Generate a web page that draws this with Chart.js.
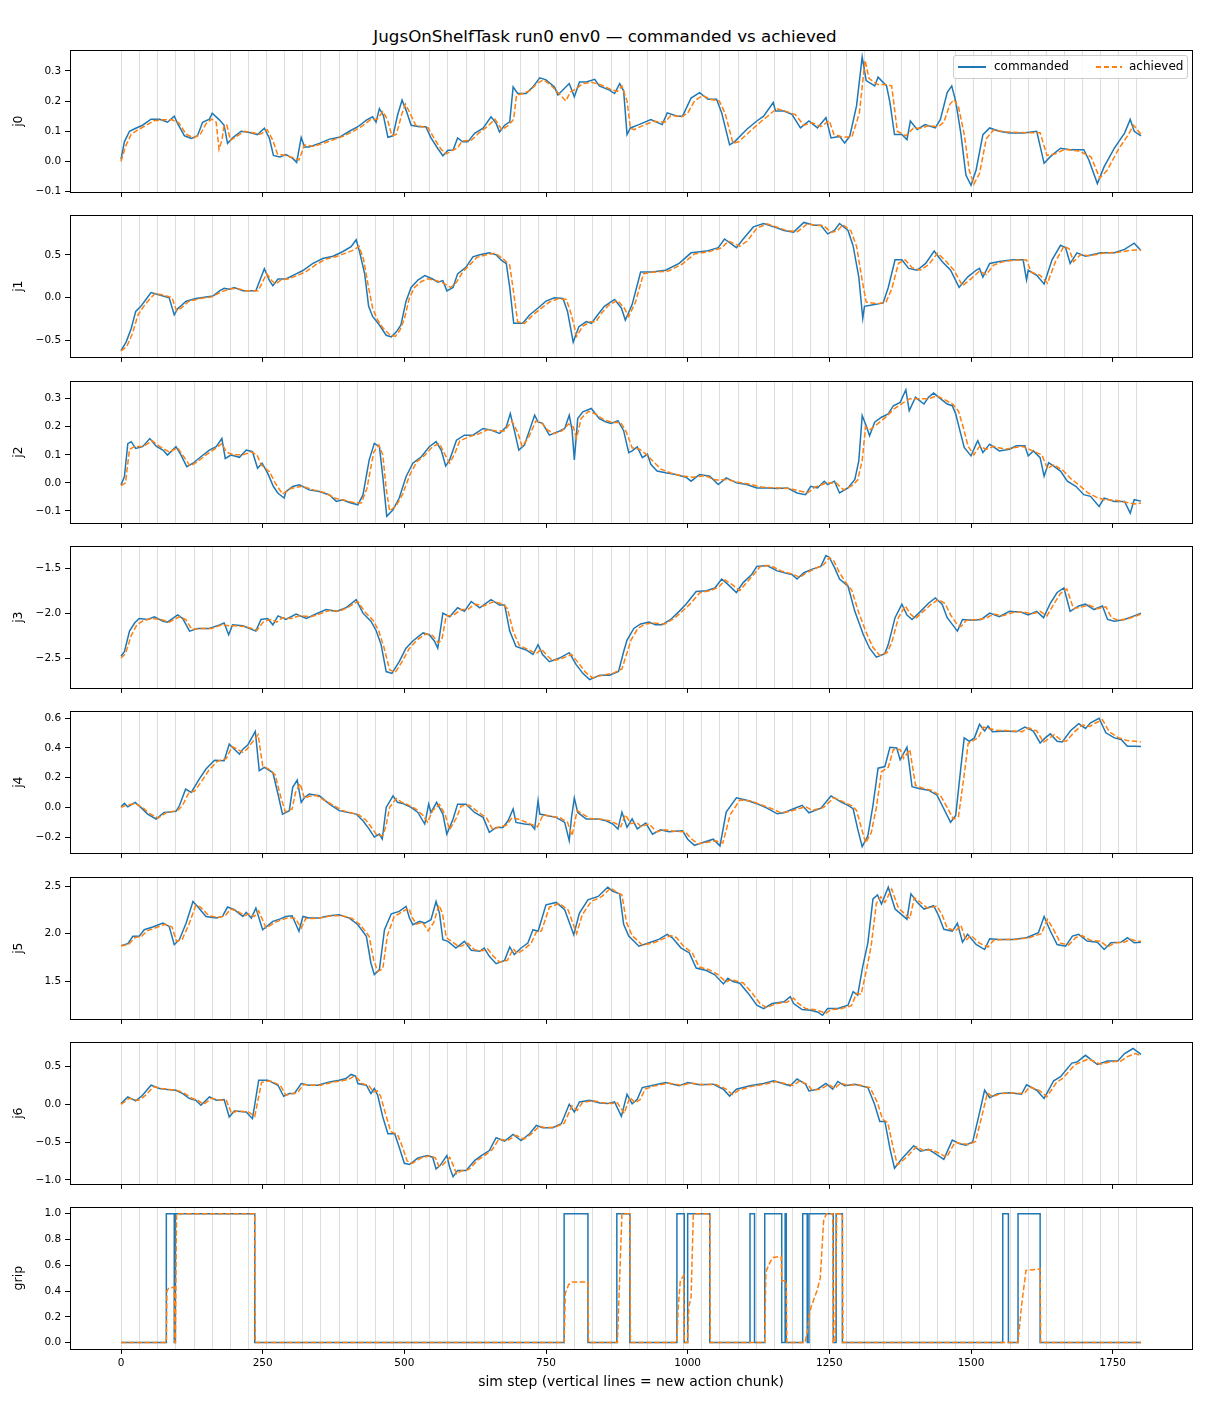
<!DOCTYPE html>
<html>
<head>
<meta charset="utf-8">
<script src="https://cdn.jsdelivr.net/npm/chart.js@4.4.1/dist/chart.umd.min.js"></script>
<style>
  body { margin: 0; background: #fff; width: 1210px; height: 1408px; position: relative; font-family: "DejaVu Sans", sans-serif; overflow: hidden; }
  canvas { position: absolute; left: 0; }
  #title { position: absolute; left: 0; top: 26px; width: 1210px; text-align: center; font-size: 16.7px; line-height: 20px; color: #000; }
  #legend { position: absolute; left: 953px; top: 55px; width: 233px; height: 22px; border: 1px solid #cccccc; border-radius: 3px; background: rgba(255,255,255,0.8); z-index: 5; font-size: 12px; color: #000; }
  #legend .sw { position: absolute; top: 10px; height: 1.5px; }
  #legend .tx { position: absolute; top: 3px; line-height: 15px; }
</style>
</head>
<body>
<div id="title">JugsOnShelfTask run0 env0 — commanded vs achieved</div>
<div id="legend">
  <span class="sw" style="left:4px;width:28px;background:#1f77b4"></span>
  <span class="tx" style="left:40px">commanded</span>
  <span class="sw" style="left:142px;width:26px;background:repeating-linear-gradient(90deg,#ff7f0e 0 5.5px,transparent 5.5px 8px)"></span>
  <span class="tx" style="left:175px">achieved</span>
</div>
<script>
// [sim step, value] pairs
const j0Commanded = [[0,0.007],[6,0.065],[15,0.10],[26,0.11],[38,0.12],[53,0.14],[68,0.14],[82,0.13],[94,0.15],[100,0.125],[112,0.085],[124,0.076],[135,0.085],[144,0.13],[156,0.14],[161,0.16],[174,0.137],[182,0.12],[188,0.06],[197,0.078],[212,0.10],[227,0.096],[241,0.089],[253,0.11],[262,0.076],[269,0.02],[280,0.015],[291,0.023],[303,0.01],[310,-0.003],[318,0.08],[324,0.048],[332,0.048],[350,0.06],[368,0.074],[385,0.08],[403,0.10],[418,0.115],[433,0.137],[444,0.148],[450,0.13],[456,0.175],[463,0.153],[471,0.08],[480,0.085],[488,0.153],[496,0.203],[503,0.17],[512,0.12],[527,0.115],[538,0.115],[547,0.078],[559,0.043],[568,0.019],[577,0.037],[586,0.037],[594,0.078],[603,0.065],[612,0.065],[624,0.093],[639,0.11],[653,0.148],[662,0.126],[668,0.098],[677,0.12],[686,0.131],[692,0.247],[700,0.225],[715,0.225],[727,0.247],[739,0.277],[750,0.27],[765,0.247],[771,0.22],[791,0.258],[800,0.214],[809,0.263],[821,0.263],[836,0.272],[844,0.25],[862,0.236],[871,0.225],[880,0.258],[887,0.234],[893,0.089],[899,0.111],[914,0.122],[935,0.139],[955,0.122],[964,0.161],[982,0.15],[991,0.15],[1006,0.21],[1021,0.228],[1036,0.206],[1051,0.206],[1060,0.161],[1074,0.055],[1083,0.066],[1104,0.106],[1122,0.134],[1134,0.15],[1151,0.195],[1155,0.167],[1170,0.167],[1184,0.156],[1199,0.111],[1214,0.134],[1229,0.111],[1244,0.145],[1253,0.078],[1268,0.083],[1277,0.061],[1286,0.083],[1298,0.184],[1308,0.346],[1315,0.268],[1330,0.25],[1336,0.279],[1351,0.25],[1357,0.195],[1365,0.089],[1378,0.089],[1387,0.072],[1393,0.134],[1405,0.106],[1419,0.122],[1437,0.111],[1446,0.139],[1458,0.228],[1466,0.25],[1473,0.2],[1482,0.094],[1491,-0.045],[1500,-0.079],[1509,-0.028],[1521,0.089],[1533,0.111],[1550,0.1],[1568,0.094],[1592,0.094],[1616,0.1],[1629,-0.006],[1640,0.016],[1658,0.044],[1675,0.039],[1699,0.039],[1708,0.005],[1723,-0.073],[1735,-0.017],[1753,0.044],[1771,0.094],[1781,0.139],[1788,0.1],[1800,0.085]];
const j0Achieved = [[0,0.0],[8,0.05],[18,0.09],[30,0.105],[45,0.12],[58,0.135],[75,0.138],[90,0.138],[102,0.128],[115,0.09],[128,0.078],[140,0.09],[150,0.125],[160,0.14],[168,0.13],[173,0.04],[178,0.07],[182,0.12],[187,0.12],[193,0.07],[203,0.082],[218,0.1],[233,0.095],[246,0.09],[258,0.105],[268,0.07],[276,0.025],[290,0.02],[305,0.012],[314,0.005],[324,0.055],[340,0.05],[360,0.062],[378,0.074],[394,0.085],[410,0.1],[426,0.118],[440,0.138],[452,0.14],[462,0.165],[470,0.14],[478,0.085],[486,0.09],[496,0.16],[502,0.19],[510,0.16],[520,0.12],[542,0.112],[553,0.075],[565,0.04],[574,0.025],[583,0.035],[594,0.045],[602,0.068],[618,0.07],[632,0.095],[646,0.115],[660,0.14],[672,0.105],[684,0.12],[693,0.14],[698,0.22],[710,0.225],[722,0.235],[735,0.26],[746,0.27],[760,0.25],[775,0.22],[785,0.2],[793,0.23],[803,0.24],[815,0.258],[830,0.262],[845,0.255],[865,0.238],[876,0.232],[884,0.25],[893,0.2],[899,0.11],[905,0.105],[920,0.118],[940,0.133],[960,0.13],[970,0.152],[990,0.148],[1000,0.16],[1012,0.2],[1026,0.218],[1042,0.205],[1056,0.2],[1066,0.16],[1080,0.06],[1090,0.065],[1110,0.1],[1128,0.13],[1140,0.148],[1157,0.175],[1175,0.165],[1190,0.155],[1205,0.12],[1220,0.128],[1235,0.115],[1250,0.135],[1258,0.09],[1274,0.08],[1290,0.082],[1303,0.16],[1313,0.335],[1320,0.275],[1335,0.255],[1350,0.255],[1360,0.25],[1370,0.1],[1385,0.085],[1398,0.11],[1410,0.11],[1425,0.118],[1442,0.115],[1452,0.13],[1463,0.19],[1470,0.205],[1478,0.18],[1488,0.09],[1497,-0.03],[1505,-0.075],[1515,-0.04],[1527,0.075],[1540,0.105],[1560,0.098],[1600,0.095],[1622,0.095],[1634,0.02],[1648,0.025],[1665,0.04],[1690,0.035],[1712,0.015],[1727,-0.055],[1740,-0.03],[1760,0.04],[1778,0.09],[1787,0.12],[1800,0.09]];

const j1Commanded = [[0,-0.615],[9,-0.516],[18,-0.357],[26,-0.159],[35,-0.1],[44,-0.02],[53,0.06],[68,0.032],[85,0.0],[94,-0.2],[100,-0.127],[115,-0.04],[132,-0.008],[150,0.008],[162,0.02],[174,0.08],[182,0.11],[191,0.1],[200,0.12],[215,0.08],[238,0.08],[253,0.337],[262,0.2],[268,0.14],[277,0.218],[291,0.218],[309,0.278],[321,0.317],[338,0.397],[356,0.456],[374,0.484],[391,0.536],[406,0.595],[415,0.675],[421,0.536],[430,0.278],[437,-0.1],[444,-0.218],[456,-0.317],[468,-0.437],[477,-0.456],[486,-0.397],[494,-0.317],[503,-0.04],[512,0.12],[524,0.206],[536,0.258],[550,0.218],[559,0.18],[568,0.2],[575,0.08],[586,0.12],[594,0.278],[609,0.357],[621,0.476],[633,0.5],[650,0.524],[662,0.5],[671,0.437],[680,0.397],[686,0.12],[693,-0.298],[709,-0.298],[721,-0.2],[736,-0.12],[750,-0.04],[765,0.0],[780,-0.008],[788,-0.159],[798,-0.516],[808,-0.337],[821,-0.278],[830,-0.298],[839,-0.218],[853,-0.1],[871,-0.02],[883,-0.119],[890,-0.26],[902,-0.08],[917,0.3],[937,0.3],[961,0.32],[985,0.4],[1006,0.523],[1033,0.543],[1054,0.583],[1065,0.684],[1086,0.583],[1098,0.684],[1116,0.825],[1134,0.865],[1152,0.825],[1170,0.784],[1187,0.764],[1205,0.877],[1223,0.845],[1235,0.845],[1247,0.744],[1259,0.784],[1268,0.865],[1283,0.784],[1292,0.603],[1302,0.241],[1309,-0.241],[1312,-0.1],[1330,-0.08],[1345,-0.06],[1354,0.12],[1366,0.442],[1378,0.442],[1390,0.342],[1405,0.32],[1420,0.4],[1435,0.543],[1449,0.422],[1464,0.32],[1479,0.12],[1494,0.241],[1509,0.32],[1515,0.342],[1521,0.241],[1533,0.4],[1550,0.422],[1574,0.442],[1592,0.442],[1598,0.209],[1601,0.32],[1616,0.261],[1629,0.161],[1643,0.442],[1658,0.611],[1667,0.583],[1675,0.4],[1687,0.523],[1702,0.483],[1729,0.523],[1753,0.523],[1771,0.563],[1788,0.636],[1800,0.55]];
const j1Achieved = [[0,-0.62],[10,-0.57],[20,-0.42],[30,-0.2],[40,-0.1],[50,-0.02],[60,0.05],[75,0.03],[90,0.0],[98,-0.15],[106,-0.12],[120,-0.04],[140,-0.01],[160,0.01],[178,0.07],[190,0.1],[205,0.11],[220,0.08],[242,0.08],[257,0.28],[266,0.2],[273,0.16],[283,0.21],[296,0.22],[315,0.27],[328,0.31],[345,0.39],[362,0.45],[380,0.48],[397,0.52],[412,0.56],[420,0.6],[428,0.45],[436,0.15],[444,-0.12],[452,-0.25],[462,-0.35],[474,-0.43],[484,-0.45],[492,-0.38],[500,-0.25],[509,0.0],[518,0.12],[530,0.19],[542,0.22],[556,0.2],[566,0.18],[574,0.15],[582,0.12],[592,0.18],[603,0.3],[615,0.38],[628,0.47],[645,0.5],[660,0.52],[675,0.45],[686,0.38],[692,0.1],[700,-0.28],[712,-0.3],[727,-0.2],[742,-0.12],[756,-0.05],[772,-0.01],[786,-0.02],[795,-0.2],[804,-0.45],[815,-0.33],[828,-0.28],[838,-0.28],[848,-0.18],[860,-0.09],[876,-0.03],[888,-0.12],[896,-0.22],[908,-0.05],[922,0.28],[942,0.3],[966,0.31],[990,0.39],[1012,0.51],[1040,0.54],[1060,0.58],[1072,0.66],[1092,0.6],[1105,0.66],[1122,0.81],[1140,0.86],[1158,0.82],[1176,0.78],[1194,0.77],[1211,0.86],[1230,0.84],[1240,0.84],[1253,0.76],[1264,0.78],[1274,0.85],[1288,0.78],[1298,0.6],[1308,0.2],[1315,-0.05],[1335,-0.07],[1350,-0.05],[1360,0.1],[1372,0.4],[1384,0.44],[1396,0.35],[1410,0.32],[1426,0.39],[1441,0.52],[1455,0.43],[1470,0.32],[1485,0.14],[1500,0.22],[1515,0.31],[1527,0.27],[1540,0.38],[1556,0.42],[1580,0.44],[1598,0.44],[1606,0.3],[1622,0.26],[1635,0.17],[1649,0.42],[1664,0.6],[1673,0.57],[1681,0.42],[1693,0.5],[1710,0.49],[1735,0.52],[1760,0.53],[1780,0.55],[1800,0.56]];

const j2Commanded = [[0,-0.007],[6,0.022],[12,0.14],[18,0.147],[26,0.123],[38,0.129],[51,0.158],[62,0.131],[74,0.117],[82,0.099],[97,0.129],[106,0.099],[116,0.058],[127,0.07],[141,0.093],[156,0.117],[168,0.129],[178,0.158],[184,0.087],[194,0.099],[209,0.091],[221,0.117],[232,0.111],[241,0.052],[249,0.07],[259,0.034],[269,-0.013],[277,-0.037],[288,-0.054],[291,-0.031],[303,-0.013],[315,-0.007],[332,-0.025],[350,-0.031],[368,-0.043],[380,-0.066],[391,-0.06],[403,-0.07],[418,-0.078],[427,-0.043],[438,0.082],[447,0.141],[456,0.129],[462,0.022],[469,-0.119],[480,-0.096],[491,-0.054],[503,0.022],[515,0.07],[530,0.093],[544,0.129],[556,0.147],[565,0.117],[573,0.06],[580,0.082],[592,0.152],[606,0.17],[621,0.17],[639,0.194],[653,0.188],[668,0.176],[680,0.2],[687,0.247],[694,0.188],[702,0.117],[712,0.135],[721,0.188],[730,0.241],[736,0.217],[744,0.212],[756,0.17],[771,0.182],[783,0.194],[791,0.241],[796,0.188],[800,0.082],[806,0.229],[815,0.253],[830,0.265],[844,0.229],[856,0.217],[865,0.212],[877,0.222],[887,0.186],[896,0.108],[902,0.114],[911,0.128],[920,0.09],[929,0.102],[935,0.066],[946,0.042],[961,0.036],[979,0.03],[997,0.02],[1006,0.006],[1021,0.03],[1039,0.024],[1054,-0.006],[1068,0.018],[1086,0.0],[1104,-0.006],[1122,-0.018],[1140,-0.018],[1158,-0.02],[1176,-0.018],[1193,-0.036],[1208,-0.042],[1217,-0.012],[1229,-0.018],[1241,0.006],[1247,-0.006],[1259,0.006],[1268,-0.036],[1283,-0.018],[1295,0.012],[1302,0.078],[1308,0.24],[1315,0.204],[1321,0.168],[1330,0.216],[1342,0.234],[1354,0.246],[1363,0.275],[1375,0.287],[1385,0.332],[1391,0.257],[1402,0.305],[1417,0.281],[1425,0.305],[1434,0.32],[1446,0.3],[1458,0.281],[1467,0.275],[1473,0.246],[1479,0.198],[1488,0.126],[1500,0.096],[1509,0.138],[1512,0.15],[1521,0.108],[1533,0.138],[1550,0.114],[1568,0.12],[1580,0.132],[1595,0.132],[1601,0.096],[1610,0.114],[1622,0.09],[1629,0.024],[1637,0.072],[1646,0.06],[1658,0.042],[1670,0.006],[1685,-0.012],[1699,-0.042],[1711,-0.048],[1726,-0.084],[1735,-0.054],[1753,-0.066],[1771,-0.066],[1781,-0.108],[1788,-0.06],[1800,-0.065]];
const j2Achieved = [[0,-0.01],[8,0.0],[15,0.12],[25,0.13],[40,0.13],[55,0.15],[68,0.13],[85,0.11],[100,0.125],[112,0.09],[122,0.06],[135,0.075],[150,0.1],[165,0.12],[178,0.14],[186,0.11],[198,0.1],[215,0.1],[230,0.11],[240,0.1],[247,0.065],[262,0.04],[272,0.0],[285,-0.04],[300,-0.02],[320,-0.012],[340,-0.025],[360,-0.035],[378,-0.055],[395,-0.062],[410,-0.07],[424,-0.072],[434,-0.02],[446,0.11],[455,0.135],[462,0.1],[468,-0.02],[474,-0.1],[486,-0.08],[497,-0.04],[510,0.03],[522,0.075],[537,0.1],[550,0.13],[562,0.14],[572,0.1],[580,0.07],[588,0.1],[598,0.15],[615,0.165],[632,0.175],[648,0.19],[662,0.185],[676,0.185],[690,0.22],[700,0.18],[708,0.13],[720,0.165],[732,0.22],[742,0.215],[752,0.19],[764,0.175],[778,0.185],[790,0.21],[798,0.2],[804,0.16],[812,0.23],[825,0.255],[838,0.245],[852,0.225],[868,0.215],[882,0.215],[892,0.18],[902,0.125],[915,0.12],[925,0.105],[940,0.075],[952,0.05],[970,0.035],[990,0.025],[1010,0.02],[1030,0.026],[1050,0.01],[1070,0.012],[1090,0.002],[1110,-0.005],[1130,-0.015],[1160,-0.018],[1180,-0.02],[1200,-0.03],[1212,-0.035],[1225,-0.015],[1245,0.0],[1262,0.0],[1275,-0.025],[1290,-0.01],[1300,0.01],[1308,0.08],[1314,0.2],[1322,0.19],[1335,0.21],[1350,0.235],[1365,0.265],[1380,0.285],[1392,0.3],[1408,0.3],[1425,0.3],[1440,0.31],[1455,0.295],[1468,0.28],[1478,0.255],[1486,0.2],[1495,0.13],[1505,0.1],[1515,0.13],[1527,0.12],[1540,0.13],[1560,0.12],[1590,0.13],[1608,0.115],[1625,0.1],[1635,0.05],[1645,0.065],[1662,0.045],[1676,0.015],[1692,-0.01],[1706,-0.035],[1720,-0.05],[1735,-0.06],[1755,-0.062],[1775,-0.07],[1790,-0.075],[1800,-0.072]];

const j3Commanded = [[0,-2.48],[6,-2.43],[15,-2.2],[24,-2.11],[32,-2.06],[47,-2.07],[59,-2.04],[74,-2.09],[82,-2.1],[100,-2.02],[109,-2.06],[121,-2.2],[135,-2.17],[156,-2.17],[174,-2.13],[182,-2.11],[190,-2.24],[197,-2.13],[215,-2.14],[238,-2.2],[247,-2.07],[259,-2.06],[268,-2.13],[277,-2.03],[291,-2.07],[309,-2.01],[327,-2.06],[344,-2.01],[362,-1.96],[380,-1.98],[397,-1.94],[415,-1.85],[427,-2.0],[441,-2.09],[450,-2.19],[459,-2.35],[468,-2.65],[478,-2.67],[491,-2.54],[503,-2.39],[515,-2.31],[533,-2.22],[544,-2.24],[553,-2.31],[559,-2.39],[568,-2.0],[580,-2.04],[594,-1.94],[606,-1.98],[618,-1.87],[633,-1.94],[653,-1.85],[668,-1.91],[677,-1.91],[686,-2.2],[697,-2.37],[715,-2.41],[727,-2.46],[736,-2.35],[744,-2.46],[756,-2.54],[774,-2.5],[791,-2.44],[803,-2.57],[815,-2.67],[827,-2.74],[845,-2.69],[862,-2.69],[878,-2.65],[887,-2.43],[893,-2.3],[905,-2.17],[917,-2.12],[932,-2.1],[943,-2.13],[955,-2.13],[970,-2.07],[985,-1.98],[997,-1.9],[1015,-1.76],[1033,-1.75],[1048,-1.72],[1060,-1.62],[1071,-1.68],[1086,-1.77],[1098,-1.66],[1113,-1.57],[1122,-1.48],[1140,-1.47],[1158,-1.53],[1176,-1.56],[1184,-1.57],[1193,-1.62],[1205,-1.55],[1220,-1.51],[1235,-1.48],[1244,-1.36],[1250,-1.38],[1259,-1.49],[1268,-1.62],[1283,-1.70],[1295,-1.98],[1310,-2.24],[1321,-2.39],[1333,-2.49],[1348,-2.45],[1354,-2.35],[1366,-2.05],[1378,-1.9],[1387,-2.02],[1396,-2.07],[1411,-1.98],[1425,-1.89],[1437,-1.83],[1449,-1.9],[1458,-2.05],[1470,-2.15],[1476,-2.2],[1485,-2.07],[1503,-2.08],[1518,-2.07],[1533,-2.0],[1550,-2.04],[1568,-1.98],[1589,-1.99],[1601,-2.02],[1616,-1.98],[1628,-2.05],[1640,-1.89],[1652,-1.77],[1664,-1.72],[1675,-1.98],[1690,-1.92],[1702,-1.9],[1717,-1.96],[1732,-1.92],[1741,-2.07],[1753,-2.09],[1771,-2.07],[1788,-2.03],[1800,-2.0]];
const j3Achieved = [[0,-2.5],[8,-2.45],[18,-2.25],[28,-2.13],[40,-2.08],[55,-2.06],[70,-2.07],[85,-2.1],[103,-2.04],[114,-2.07],[125,-2.18],[140,-2.17],[160,-2.17],[178,-2.13],[190,-2.14],[200,-2.14],[220,-2.15],[240,-2.19],[252,-2.09],[265,-2.07],[275,-2.1],[285,-2.05],[300,-2.06],[315,-2.03],[335,-2.04],[350,-2.01],[368,-1.97],[385,-1.98],[402,-1.93],[418,-1.87],[431,-1.99],[445,-2.08],[455,-2.2],[464,-2.38],[474,-2.63],[484,-2.66],[496,-2.54],[508,-2.4],[522,-2.3],[538,-2.23],[550,-2.25],[560,-2.33],[566,-2.3],[574,-2.03],[585,-2.03],[600,-1.96],[612,-1.96],[624,-1.9],[640,-1.92],[658,-1.87],[674,-1.9],[682,-1.95],[692,-2.2],[703,-2.36],[720,-2.41],[733,-2.45],[742,-2.4],[750,-2.46],[762,-2.53],[780,-2.5],[795,-2.46],[808,-2.56],[820,-2.66],[832,-2.72],[850,-2.69],[868,-2.67],[884,-2.62],[893,-2.44],[900,-2.3],[912,-2.17],[925,-2.12],[940,-2.11],[960,-2.12],[978,-2.05],[992,-1.97],[1004,-1.9],[1022,-1.77],[1040,-1.75],[1055,-1.71],[1066,-1.63],[1078,-1.68],[1092,-1.75],[1104,-1.66],[1118,-1.56],[1128,-1.48],[1146,-1.47],[1165,-1.53],[1182,-1.56],[1198,-1.6],[1210,-1.55],[1226,-1.5],[1240,-1.46],[1250,-1.38],[1258,-1.42],[1268,-1.55],[1278,-1.65],[1290,-1.75],[1301,-1.98],[1316,-2.23],[1327,-2.38],[1339,-2.47],[1352,-2.44],[1360,-2.33],[1372,-2.05],[1384,-1.92],[1393,-2.01],[1402,-2.06],[1416,-1.98],[1430,-1.9],[1442,-1.85],[1454,-1.89],[1464,-2.02],[1476,-2.13],[1482,-2.15],[1492,-2.08],[1510,-2.07],[1525,-2.06],[1540,-2.01],[1556,-2.03],[1575,-1.99],[1595,-1.99],[1607,-2.01],[1622,-1.98],[1634,-2.03],[1646,-1.9],[1658,-1.78],[1669,-1.73],[1681,-1.95],[1696,-1.93],[1708,-1.91],[1723,-1.95],[1738,-1.93],[1748,-2.05],[1760,-2.08],[1778,-2.06],[1792,-2.03],[1800,-2.01]];

const j4Commanded = [[0,0.004],[6,0.027],[12,0.004],[25,0.034],[35,0.0],[47,-0.045],[62,-0.078],[76,-0.034],[97,-0.027],[103,0.011],[114,0.123],[124,0.101],[138,0.19],[150,0.258],[165,0.318],[182,0.314],[191,0.426],[200,0.392],[209,0.359],[215,0.392],[224,0.422],[237,0.511],[244,0.247],[253,0.269],[268,0.235],[277,0.09],[285,-0.045],[297,-0.022],[303,0.135],[311,0.184],[318,0.034],[324,0.067],[332,0.09],[350,0.078],[368,0.022],[385,-0.022],[415,-0.045],[427,-0.09],[438,-0.146],[447,-0.2],[456,-0.18],[461,-0.213],[468,0.0],[480,0.078],[488,0.034],[497,0.027],[512,0.0],[524,-0.034],[536,-0.112],[543,0.022],[547,-0.034],[557,0.034],[568,-0.045],[575,-0.18],[586,-0.078],[594,0.022],[609,0.022],[624,-0.034],[639,-0.067],[650,-0.168],[662,-0.135],[674,-0.135],[683,-0.09],[692,-0.011],[697,-0.101],[712,-0.112],[724,-0.117],[730,-0.146],[736,0.045],[739,-0.045],[753,-0.056],[768,-0.067],[783,-0.101],[791,-0.224],[795,-0.067],[800,0.063],[806,-0.034],[821,-0.078],[842,-0.078],[856,-0.09],[868,-0.112],[877,-0.146],[884,-0.032],[893,-0.134],[902,-0.077],[911,-0.145],[926,-0.105],[938,-0.18],[952,-0.15],[967,-0.164],[991,-0.157],[1000,-0.214],[1012,-0.255],[1027,-0.236],[1045,-0.214],[1057,-0.259],[1068,-0.032],[1086,0.064],[1104,0.048],[1122,0.025],[1140,-0.005],[1158,-0.043],[1170,-0.036],[1187,-0.009],[1202,0.014],[1214,-0.036],[1235,-0.005],[1253,0.077],[1271,0.036],[1283,0.014],[1292,-0.009],[1300,-0.145],[1308,-0.264],[1318,-0.191],[1327,0.014],[1336,0.264],[1348,0.275],[1357,0.405],[1369,0.4],[1375,0.32],[1387,0.405],[1396,0.139],[1408,0.127],[1425,0.116],[1440,0.082],[1452,-0.009],[1464,-0.1],[1473,-0.055],[1482,0.264],[1488,0.468],[1497,0.445],[1506,0.468],[1515,0.559],[1524,0.514],[1530,0.548],[1538,0.509],[1562,0.514],[1580,0.509],[1595,0.541],[1610,0.514],[1622,0.434],[1631,0.468],[1640,0.495],[1652,0.445],[1661,0.441],[1676,0.518],[1690,0.564],[1702,0.532],[1711,0.57],[1726,0.6],[1738,0.502],[1753,0.468],[1765,0.457],[1776,0.411],[1788,0.411],[1800,0.41]];
const j4Achieved = [[0,0.0],[10,0.015],[25,0.025],[38,0.0],[50,-0.04],[65,-0.072],[80,-0.035],[100,-0.02],[108,0.01],[120,0.1],[130,0.11],[143,0.18],[155,0.25],[170,0.31],[186,0.33],[196,0.41],[206,0.39],[215,0.37],[222,0.39],[232,0.44],[242,0.49],[250,0.28],[260,0.26],[272,0.22],[282,0.07],[290,-0.03],[302,-0.01],[308,0.1],[316,0.16],[324,0.06],[332,0.075],[345,0.08],[365,0.035],[390,-0.02],[420,-0.05],[432,-0.085],[443,-0.14],[452,-0.19],[462,-0.19],[468,-0.12],[474,0.0],[486,0.06],[495,0.035],[505,0.02],[520,-0.01],[532,-0.05],[541,-0.1],[550,-0.02],[562,0.02],[572,-0.05],[580,-0.15],[592,-0.07],[600,0.01],[615,0.015],[630,-0.03],[645,-0.07],[656,-0.15],[668,-0.13],[680,-0.12],[690,-0.07],[702,-0.08],[718,-0.105],[735,-0.13],[745,-0.05],[760,-0.06],[775,-0.07],[788,-0.1],[796,-0.19],[805,-0.02],[812,-0.04],[828,-0.075],[848,-0.08],[862,-0.09],[874,-0.11],[882,-0.13],[890,-0.05],[900,-0.11],[910,-0.1],[918,-0.13],[932,-0.11],[945,-0.165],[960,-0.15],[975,-0.16],[996,-0.165],[1006,-0.21],[1018,-0.245],[1035,-0.235],[1050,-0.225],[1062,-0.24],[1075,-0.05],[1092,0.05],[1110,0.045],[1128,0.02],[1146,-0.005],[1164,-0.035],[1178,-0.03],[1195,-0.01],[1208,0.005],[1220,-0.02],[1240,0.0],[1258,0.065],[1276,0.035],[1290,0.01],[1298,-0.02],[1306,-0.13],[1314,-0.24],[1324,-0.17],[1333,0.0],[1342,0.24],[1354,0.27],[1363,0.39],[1375,0.39],[1381,0.33],[1392,0.39],[1402,0.15],[1414,0.13],[1430,0.115],[1446,0.08],[1458,0.0],[1469,-0.08],[1478,-0.06],[1488,0.22],[1495,0.43],[1504,0.45],[1513,0.47],[1522,0.54],[1532,0.53],[1545,0.52],[1570,0.515],[1590,0.51],[1602,0.535],[1616,0.515],[1628,0.44],[1638,0.465],[1647,0.49],[1660,0.45],[1668,0.445],[1683,0.51],[1697,0.555],[1710,0.545],[1718,0.565],[1732,0.59],[1744,0.51],[1760,0.47],[1775,0.45],[1790,0.445],[1800,0.44]];

const j5Commanded = [[0,1.874],[12,1.895],[21,1.972],[32,1.972],[41,2.042],[56,2.07],[74,2.112],[85,2.077],[94,1.884],[103,1.937],[115,2.112],[127,2.34],[135,2.288],[150,2.182],[168,2.165],[179,2.182],[188,2.281],[200,2.253],[215,2.182],[221,2.225],[230,2.165],[238,2.27],[250,2.042],[268,2.13],[280,2.154],[291,2.182],[302,2.189],[314,2.025],[321,2.182],[332,2.165],[350,2.165],[368,2.189],[385,2.2],[403,2.165],[418,2.095],[433,1.972],[441,1.691],[447,1.568],[456,1.621],[465,2.042],[477,2.21],[491,2.235],[503,2.288],[509,2.165],[515,2.095],[527,2.13],[536,2.112],[547,2.147],[556,2.34],[562,2.218],[568,1.937],[577,1.919],[591,1.849],[606,1.919],[618,1.825],[633,1.814],[641,1.849],[650,1.761],[662,1.684],[677,1.719],[686,1.86],[694,1.779],[706,1.849],[718,1.902],[727,2.042],[736,2.025],[750,2.305],[768,2.33],[783,2.253],[799,1.989],[809,2.218],[824,2.358],[842,2.393],[859,2.491],[868,2.446],[880,2.42],[887,2.1],[896,1.975],[914,1.868],[932,1.904],[949,1.94],[964,1.993],[973,1.957],[988,1.851],[1003,1.797],[1015,1.637],[1033,1.612],[1048,1.566],[1063,1.47],[1071,1.53],[1080,1.495],[1092,1.477],[1107,1.37],[1122,1.246],[1134,1.21],[1149,1.263],[1170,1.281],[1181,1.335],[1187,1.263],[1202,1.199],[1217,1.192],[1229,1.174],[1238,1.139],[1247,1.21],[1265,1.21],[1283,1.246],[1292,1.388],[1300,1.352],[1309,1.655],[1318,1.904],[1327,2.367],[1335,2.409],[1342,2.313],[1354,2.491],[1366,2.26],[1387,2.153],[1394,2.42],[1405,2.331],[1417,2.26],[1434,2.295],[1443,2.189],[1452,2.046],[1467,2.028],[1476,2.11],[1485,1.911],[1494,1.993],[1509,1.886],[1524,1.833],[1533,1.947],[1550,1.94],[1574,1.94],[1598,1.957],[1619,2.011],[1629,2.181],[1640,2.028],[1652,1.886],[1667,1.868],[1679,1.975],[1690,1.993],[1705,1.922],[1723,1.911],[1735,1.833],[1747,1.904],[1765,1.911],[1776,1.957],[1788,1.904],[1800,1.91]];
const j5Achieved = [[0,1.87],[14,1.89],[25,1.96],[36,1.97],[46,2.03],[60,2.06],[78,2.1],[90,2.07],[98,1.92],[108,1.94],[120,2.1],[132,2.3],[140,2.28],[155,2.19],[172,2.17],[184,2.19],[193,2.26],[205,2.24],[218,2.19],[226,2.21],[235,2.18],[243,2.24],[256,2.06],[272,2.12],[285,2.15],[296,2.17],[308,2.16],[318,2.06],[326,2.16],[338,2.16],[355,2.17],[372,2.19],[390,2.19],[408,2.16],[423,2.09],[438,1.97],[446,1.72],[453,1.6],[462,1.63],[470,1.98],[482,2.18],[496,2.23],[508,2.27],[514,2.17],[521,2.1],[532,2.12],[542,2.03],[552,2.12],[561,2.3],[567,2.22],[574,1.96],[583,1.92],[597,1.86],[612,1.9],[624,1.83],[638,1.82],[647,1.84],[656,1.77],[668,1.7],[682,1.72],[692,1.84],[700,1.79],[712,1.84],[724,1.9],[733,2.02],[742,2.03],[756,2.28],[774,2.32],[789,2.25],[804,2.0],[814,2.2],[830,2.34],[848,2.39],[864,2.48],[874,2.44],[884,2.41],[892,2.12],[902,1.98],[920,1.88],[938,1.9],[955,1.94],[970,1.98],[980,1.96],[994,1.86],[1008,1.8],[1020,1.65],[1038,1.62],[1053,1.57],[1068,1.49],[1077,1.52],[1086,1.5],[1098,1.48],[1113,1.38],[1128,1.26],[1140,1.22],[1155,1.26],[1176,1.28],[1187,1.32],[1194,1.27],[1208,1.21],[1223,1.2],[1235,1.18],[1244,1.16],[1253,1.2],[1271,1.21],[1289,1.24],[1298,1.37],[1306,1.36],[1315,1.6],[1324,1.88],[1333,2.32],[1341,2.39],[1348,2.33],[1360,2.47],[1372,2.27],[1392,2.16],[1400,2.38],[1411,2.33],[1423,2.27],[1440,2.29],[1449,2.2],[1458,2.06],[1473,2.03],[1482,2.09],[1491,1.93],[1500,1.98],[1515,1.9],[1530,1.86],[1540,1.93],[1556,1.94],[1580,1.94],[1604,1.96],[1624,2.0],[1635,2.15],[1646,2.04],[1658,1.9],[1672,1.88],[1685,1.96],[1696,1.98],[1711,1.93],[1729,1.92],[1741,1.86],[1753,1.9],[1770,1.91],[1782,1.94],[1794,1.92],[1800,1.92]];

const j6Commanded = [[0,0.009],[12,0.097],[26,0.044],[38,0.12],[53,0.252],[68,0.208],[82,0.195],[97,0.186],[109,0.142],[121,0.075],[132,0.053],[141,-0.013],[156,0.097],[168,0.053],[182,0.062],[191,-0.168],[200,-0.088],[221,-0.102],[232,-0.19],[243,0.319],[259,0.319],[277,0.252],[287,0.106],[297,0.142],[306,0.142],[318,0.274],[332,0.252],[347,0.252],[368,0.296],[385,0.319],[397,0.341],[406,0.394],[414,0.372],[418,0.274],[433,0.252],[441,0.142],[447,0.208],[453,0.119],[462,-0.168],[471,-0.389],[483,-0.389],[491,-0.566],[500,-0.779],[509,-0.796],[524,-0.708],[541,-0.677],[550,-0.699],[556,-0.854],[563,-0.81],[575,-0.677],[580,-0.832],[586,-0.956],[594,-0.876],[609,-0.876],[624,-0.743],[636,-0.677],[650,-0.611],[662,-0.442],[677,-0.487],[692,-0.398],[706,-0.478],[721,-0.389],[733,-0.279],[744,-0.31],[762,-0.31],[777,-0.257],[791,0.0],[800,-0.102],[809,0.031],[827,0.053],[845,0.018],[859,0.009],[871,0.031],[883,-0.16],[893,0.132],[902,0.006],[911,0.065],[920,0.221],[935,0.244],[961,0.289],[985,0.244],[1000,0.289],[1021,0.257],[1045,0.266],[1063,0.199],[1074,0.109],[1086,0.199],[1110,0.244],[1134,0.275],[1152,0.311],[1181,0.244],[1193,0.334],[1208,0.266],[1214,0.177],[1229,0.199],[1244,0.275],[1256,0.199],[1265,0.302],[1277,0.244],[1295,0.266],[1318,0.221],[1330,-0.003],[1339,-0.227],[1348,-0.227],[1357,-0.585],[1365,-0.845],[1378,-0.72],[1399,-0.549],[1411,-0.621],[1425,-0.594],[1437,-0.652],[1452,-0.728],[1467,-0.473],[1479,-0.518],[1491,-0.54],[1503,-0.496],[1515,-0.114],[1524,0.186],[1533,0.087],[1547,0.141],[1568,0.154],[1589,0.132],[1598,0.257],[1616,0.186],[1629,0.078],[1646,0.311],[1658,0.365],[1678,0.544],[1687,0.558],[1702,0.647],[1723,0.526],[1741,0.571],[1759,0.571],[1771,0.67],[1786,0.737],[1800,0.66]];
const j6Achieved = [[0,0.0],[15,0.08],[30,0.05],[42,0.11],[57,0.23],[72,0.21],[86,0.195],[101,0.18],[113,0.14],[125,0.08],[136,0.05],[146,0.0],[160,0.08],[172,0.06],[186,0.05],[195,-0.12],[205,-0.09],[225,-0.1],[236,-0.16],[248,0.29],[263,0.31],[281,0.25],[291,0.12],[301,0.14],[311,0.15],[322,0.26],[336,0.25],[352,0.25],[372,0.29],[390,0.31],[402,0.33],[411,0.37],[418,0.34],[424,0.28],[438,0.24],[446,0.16],[452,0.18],[458,0.11],[467,-0.13],[476,-0.36],[488,-0.4],[496,-0.55],[505,-0.75],[514,-0.78],[529,-0.71],[546,-0.68],[555,-0.71],[561,-0.82],[568,-0.8],[580,-0.7],[586,-0.8],[592,-0.92],[600,-0.88],[614,-0.86],[629,-0.74],[641,-0.68],[655,-0.6],[667,-0.46],[682,-0.48],[697,-0.41],[711,-0.46],[726,-0.38],[738,-0.29],[750,-0.31],[767,-0.3],[782,-0.25],[796,-0.02],[805,-0.08],[814,0.02],[832,0.05],[850,0.02],[864,0.01],[876,0.02],[888,-0.12],[898,0.09],[907,0.02],[916,0.06],[925,0.2],[940,0.24],[966,0.28],[990,0.25],[1005,0.28],[1026,0.26],[1050,0.26],[1068,0.2],[1079,0.13],[1091,0.19],[1115,0.24],[1139,0.27],[1157,0.3],[1186,0.25],[1198,0.31],[1212,0.26],[1219,0.19],[1234,0.2],[1249,0.26],[1260,0.21],[1270,0.28],[1282,0.25],[1300,0.26],[1322,0.22],[1335,0.02],[1344,-0.2],[1353,-0.24],[1362,-0.55],[1370,-0.8],[1383,-0.72],[1404,-0.56],[1416,-0.61],[1430,-0.6],[1442,-0.64],[1457,-0.7],[1472,-0.5],[1484,-0.52],[1496,-0.53],[1508,-0.49],[1520,-0.13],[1529,0.15],[1538,0.1],[1552,0.14],[1573,0.15],[1594,0.14],[1603,0.23],[1621,0.18],[1634,0.1],[1651,0.29],[1663,0.35],[1683,0.52],[1692,0.55],[1707,0.6],[1728,0.53],[1746,0.56],[1764,0.57],[1776,0.63],[1790,0.67],[1800,0.64]];

// grip: commanded is a step signal (value holds until the next change)
const gripCommanded = [[0,0],[80,1],[94,0],[96,1],[236,0],[782,1],[824,0],[875,1],[898,0],[981,1],[994,0],[1000,1],[1039,0],[1110,1],[1118,0],[1136,1],[1166,0],[1172,1],[1174,0],[1203,1],[1211,0],[1214,1],[1257,0],[1262,1],[1273,0],[1556,1],[1566,0],[1583,1],[1622,0],[1800,0]];
const gripAchieved = [[0,0],[80,0],[81,0.40],[84,0.42],[94,0.43],[95,0],[96,0],[98,1],[236,1],[237,0],[782,0],[784,0.38],[790,0.45],[796,0.47],[824,0.47],[825,0],[876,0],[884,1],[898,1],[899,0],[981,0],[983,0.25],[987,0.48],[993,0.52],[994,0],[1000,0],[1002,0.28],[1006,0.35],[1010,1],[1039,1],[1040,0],[1136,0],[1138,0.55],[1145,0.62],[1150,0.66],[1165,0.67],[1166,0.48],[1174,0.48],[1175,0],[1207,0],[1212,0.1],[1214,0.2],[1218,0.28],[1228,0.4],[1234,0.5],[1240,0.95],[1245,1],[1256,1],[1257,0],[1260,0],[1263,1],[1273,1],[1274,0],[1583,0],[1589,0.28],[1597,0.56],[1622,0.57],[1623,0],[1800,0]];

const xTicks = [0, 250, 500, 750, 1000, 1250, 1500, 1750];
const j0Ticks = [-0.1, 0.0, 0.1, 0.2, 0.3];
const j1Ticks = [-0.5, 0.0, 0.5];
const j2Ticks = [-0.1, 0.0, 0.1, 0.2, 0.3];
const j3Ticks = [-2.5, -2.0, -1.5];
const j4Ticks = [-0.2, 0.0, 0.2, 0.4, 0.6];
const j5Ticks = [1.5, 2.0, 2.5];
const j6Ticks = [-1.0, -0.5, 0.0, 0.5];
const gripTicks = [0.0, 0.2, 0.4, 0.6, 0.8, 1.0];

const CHUNK = 32;       // sim steps per action chunk
const LAST_STEP = 1800;

const panels = [
  { label: 'j0', cmd: j0Commanded, ach: j0Achieved, ticks: j0Ticks, min: -0.101, max: 0.368 },
  { label: 'j1', cmd: j1Commanded, ach: j1Achieved, ticks: j1Ticks, min: -0.69, max: 0.96 },
  { label: 'j2', cmd: j2Commanded, ach: j2Achieved, ticks: j2Ticks, min: -0.143, max: 0.362 },
  { label: 'j3', cmd: j3Commanded, ach: j3Achieved, ticks: j3Ticks, min: -2.833, max: -1.256 },
  { label: 'j4', cmd: j4Commanded, ach: j4Achieved, ticks: j4Ticks, min: -0.307, max: 0.647 },
  { label: 'j5', cmd: j5Commanded, ach: j5Achieved, ticks: j5Ticks, min: 1.1, max: 2.595 },
  { label: 'j6', cmd: j6Commanded, ach: j6Achieved, ticks: j6Ticks, min: -1.053, max: 0.819 },
  { label: 'grip', cmd: gripCommanded, ach: gripAchieved, ticks: gripTicks, min: -0.05, max: 1.05, stepped: true }
];

Chart.defaults.font.family = '"DejaVu Sans", sans-serif';
Chart.defaults.color = '#000';

const chunkStarts = [];
for (let s = 0; s < LAST_STEP; s += CHUNK) chunkStarts.push(s);

const fmt = v => v.toFixed(1).replace('-', '\u2212');
const toXY = pairs => pairs.map(([x, y]) => ({ x, y }));

// light vertical lines at each chunk start + the full axes frame
const framePlugin = {
  id: 'frame',
  beforeDatasetsDraw(chart) {
    const { ctx, chartArea: a, scales: { x } } = chart;
    ctx.save();
    ctx.strokeStyle = '#dedede';
    ctx.lineWidth = 1;
    chunkStarts.forEach(s => {
      const px = Math.round(x.getPixelForValue(s)) + 0.5;
      ctx.beginPath();
      ctx.moveTo(px, a.top);
      ctx.lineTo(px, a.bottom);
      ctx.stroke();
    });
    ctx.restore();
  },
  afterDraw(chart) {
    const { ctx, chartArea: a } = chart;
    ctx.save();
    ctx.strokeStyle = '#000';
    ctx.lineWidth = 1;
    ctx.strokeRect(Math.round(a.left) + 0.5, Math.round(a.top) + 0.5, Math.round(a.width), Math.round(a.height));
    ctx.restore();
  }
};

const PLOT_TOP = 50, PLOT_GAP = 165.3, PLOT_H = 141.5, PAD = 10;

panels.forEach((p, i) => {
  const last = i === panels.length - 1;
  const xh = last ? 50 : 12;
  const top = PLOT_TOP + i * PLOT_GAP;
  const canvas = document.createElement('canvas');
  const h = Math.round(PAD + PLOT_H + xh);
  canvas.width = 1210;
  canvas.height = h;
  canvas.style.top = Math.round(top - PAD) + 'px';
  canvas.style.width = '1210px';
  canvas.style.height = h + 'px';
  document.body.appendChild(canvas);

  new Chart(canvas, {
    type: 'line',
    data: {
      datasets: [
        {
          label: 'commanded',
          data: toXY(p.cmd),
          borderColor: '#1f77b4',
          borderWidth: 1.5,
          pointRadius: 0,
          stepped: p.stepped ? 'before' : false,
          order: 2
        },
        {
          label: 'achieved',
          data: toXY(p.ach),
          borderColor: '#ff7f0e',
          borderWidth: 1.5,
          borderDash: [5.5, 2.4],
          pointRadius: 0,
          order: 1
        }
      ]
    },
    options: {
      responsive: false,
      animation: false,
      events: [],
      layout: { padding: { top: PAD, right: 18, bottom: 0, left: 0 } },
      plugins: { legend: { display: false }, tooltip: { enabled: false } },
      scales: {
        x: {
          type: 'linear',
          min: -90,
          max: 1890,
          afterBuildTicks: s => { s.ticks = xTicks.map(v => ({ value: v })); },
          afterFit: s => { s.height = xh; },
          grid: { drawOnChartArea: false, drawTicks: true, tickLength: 4.9, color: '#000', lineWidth: 1 },
          border: { display: false },
          ticks: { display: last, padding: 3, font: { size: 10.5 }, maxRotation: 0, callback: v => String(v) },
          title: {
            display: last,
            text: 'sim step (vertical lines = new action chunk)',
            font: { size: 13.9 },
            padding: { top: 0, bottom: 8 }
          }
        },
        y: {
          type: 'linear',
          min: p.min,
          max: p.max,
          afterBuildTicks: s => { s.ticks = p.ticks.map(v => ({ value: v })); },
          afterFit: s => { s.width = 70; },
          grid: { drawOnChartArea: false, drawTicks: true, tickLength: 4.9, color: '#000', lineWidth: 1 },
          border: { display: false },
          ticks: { padding: 4, font: { size: 10.5 }, callback: v => fmt(v) },
          title: {
            display: true,
            text: p.label,
            font: { size: 12.5 },
            padding: { top: 11, bottom: 0 }
          }
        }
      }
    },
    plugins: [framePlugin]
  });
});
</script>
</body>
</html>
